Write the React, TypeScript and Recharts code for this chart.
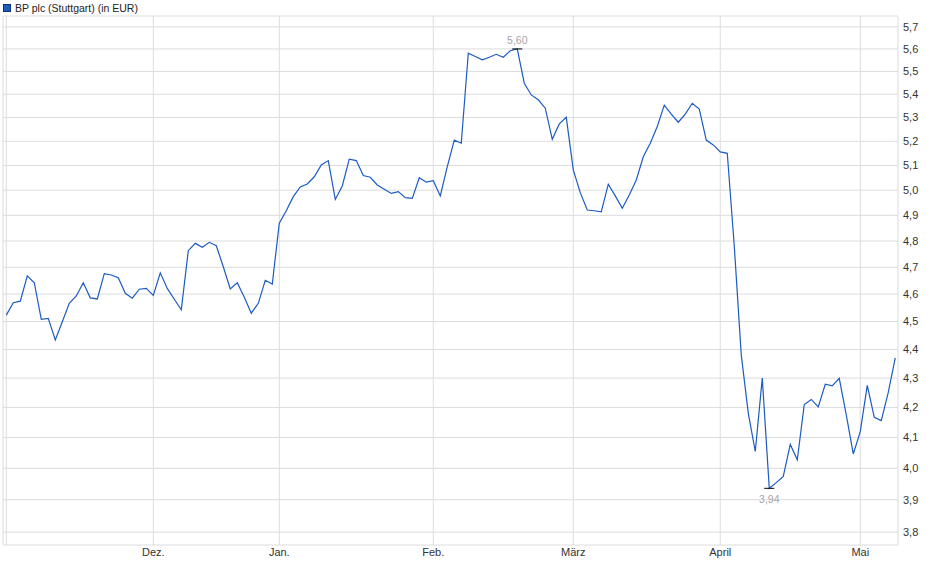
import { CartesianGrid, Line, LineChart, ReferenceArea, XAxis, YAxis } from 'recharts'

// BP plc, Stuttgart, daily closes in EUR (Nov -> mid May)
const prices = [
  4.523, 4.568, 4.574, 4.668, 4.642, 4.508, 4.511, 4.434, 4.499, 4.566,
  4.593, 4.642, 4.586, 4.582, 4.676, 4.671, 4.661, 4.603, 4.585, 4.618,
  4.621, 4.595, 4.679, 4.621, 4.581, 4.542, 4.763, 4.791, 4.776, 4.795,
  4.782, 4.702, 4.619, 4.642, 4.588, 4.530, 4.566, 4.651, 4.637, 4.869,
  4.918, 4.974, 5.013, 5.025, 5.054, 5.102, 5.120, 4.963, 5.017, 5.126,
  5.120, 5.059, 5.052, 5.021, 5.004, 4.987, 4.994, 4.970, 4.967, 5.050,
  5.032, 5.038, 4.977, 5.095, 5.205, 5.192, 5.581, 5.566, 5.551, 5.563,
  5.576, 5.563, 5.592, 5.600, 5.448, 5.397, 5.376, 5.340, 5.208, 5.273,
  5.301, 5.082, 4.990, 4.921, 4.918, 4.914, 5.024, 4.977, 4.928, 4.981,
  5.041, 5.136, 5.192, 5.262, 5.353, 5.315, 5.280, 5.315, 5.361, 5.336,
  5.205, 5.185, 5.156, 5.150, 4.781, 4.380, 4.181, 4.054, 4.300, 3.936,
  3.954, 3.974, 4.077, 4.027, 4.210, 4.227, 4.202, 4.279, 4.273, 4.299,
  4.175, 4.046, 4.119, 4.275, 4.167, 4.156, 4.251, 4.370,
]

// index of the first trading day of each month
const monthTicks = [0, 21, 39, 61, 81, 102, 122]
const monthLabels = ['', 'Dez.', 'Jan.', 'Feb.', 'März', 'April', 'Mai']

const priceTicks = [3.8, 3.9, 4.0, 4.1, 4.2, 4.3, 4.4, 4.5, 4.6, 4.7, 4.8, 4.9, 5.0, 5.1, 5.2, 5.3, 5.4, 5.5, 5.6, 5.7]

const data = prices.map((p, i) => ({ i, p }))
const hi = prices.indexOf(Math.max(...prices))
const lo = prices.indexOf(Math.min(...prices))

const font = '"Liberation Sans", Arial, sans-serif'
const comma = (v: number, d: number) => v.toFixed(d).replace('.', ',')

function Extreme(props: any) {
  const { cx, cy, index, payload } = props
  if (index !== hi && index !== lo) return <g key={index} />
  const top = index === hi
  return (
    <g key={index}>
      <line x1={cx - 5} x2={cx + 5} y1={cy} y2={cy} stroke="#000" strokeWidth={1} />
      <text x={cx} y={top ? cy - 4.5 : cy + 15} textAnchor="middle" fontSize={10.5} fontFamily={font} fill="#a6a6a6">
        {comma(payload.p, 2)}
      </text>
    </g>
  )
}

export default function App() {
  return (
    <div style={{ position: 'absolute', left: 0, top: 0, width: 940, height: 579, background: '#fff', fontFamily: font }}>
      <div style={{ position: 'absolute', left: 3, top: 2, display: 'flex', alignItems: 'center', gap: 4, fontSize: 10.5, color: '#222' }}>
        <span style={{ width: 6, height: 6, background: '#1c5bc4', border: '1px solid #0f2f6e', display: 'inline-block' }} />
        BP plc (Stuttgart) (in EUR)
      </div>
      <LineChart width={940} height={579} data={data} margin={{ top: 16, right: 0, bottom: 0, left: 3 }}>
        <CartesianGrid stroke="#dcdcdc" />
        <ReferenceArea fill="none" stroke="#dcdcdc" ifOverflow="visible" />
        <XAxis
          type="number"
          dataKey="i"
          domain={[-0.47, 127.39]}
          ticks={monthTicks}
          interval={0}
          height={34}
          tickLine={false}
          axisLine={false}
          tickSize={0}
          tickMargin={3}
          tickFormatter={(v: number) => monthLabels[monthTicks.indexOf(v)] ?? ''}
          tick={{ fontSize: 11, fill: '#333', fontFamily: font }}
        />
        <YAxis
          orientation="right"
          scale="log"
          type="number"
          domain={[3.761, 5.75]}
          allowDataOverflow
          ticks={priceTicks}
          interval={0}
          width={42}
          tickLine={false}
          axisLine={false}
          tickSize={0}
          tickMargin={5}
          tickFormatter={(v: number) => comma(v, 1)}
          tick={{ fontSize: 11, fill: '#333', fontFamily: font, textAnchor: 'start' }}
        />
        <Line
          type="linear"
          dataKey="p"
          stroke="#1c5bc4"
          strokeWidth={1.2}
          dot={Extreme}
          activeDot={false}
          isAnimationActive={false}
        />
      </LineChart>
    </div>
  )
}
